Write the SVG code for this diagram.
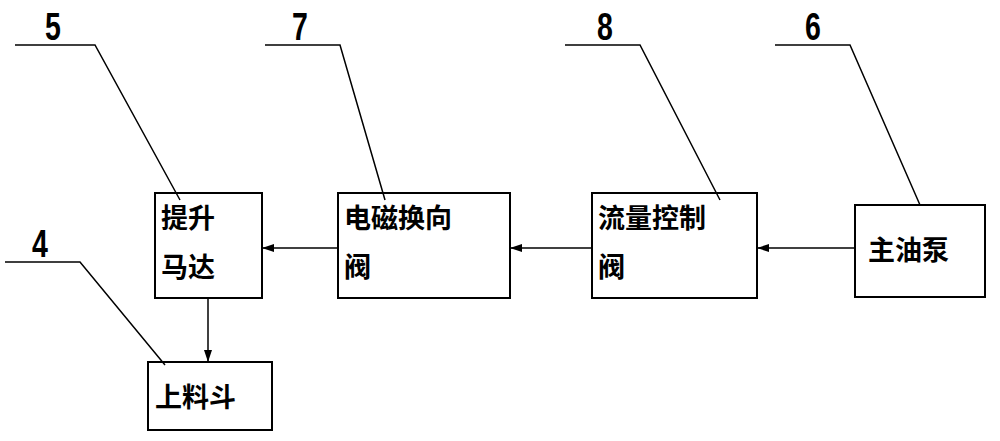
<svg xmlns="http://www.w3.org/2000/svg" width="1000" height="441" viewBox="0 0 1000 441">
<style>
.b{fill:#fff;stroke:#000;stroke-width:2}
.t{font-family:"Liberation Sans","Noto Sans CJK SC",sans-serif;font-size:27px;font-weight:bold;fill:#000}
.n{font-family:"Liberation Sans",sans-serif;font-size:38px;font-weight:bold;fill:#000}
.l{fill:none;stroke:#000;stroke-width:1.5}
</style>
<defs><marker id="a" markerWidth="12" markerHeight="8" refX="12" refY="4" orient="auto" markerUnits="userSpaceOnUse"><path d="M0,0L12,4L0,8z"/></marker></defs>
<rect width="1000" height="441" fill="#fff"/>
<g id="n5"><rect class="b" x="155" y="193" width="107" height="105"/><text class="t" x="161" y="228">提升</text><text class="t" x="161" y="277">马达</text></g>
<g id="n7"><rect class="b" x="338" y="193" width="172" height="105"/><text class="t" x="344" y="228">电磁换向</text><text class="t" x="344" y="277">阀</text></g>
<g id="n8"><rect class="b" x="592" y="193" width="165" height="105"/><text class="t" x="598" y="228">流量控制</text><text class="t" x="598" y="277">阀</text></g>
<g id="n6"><rect class="b" x="855" y="205" width="130" height="92"/><text class="t" x="868" y="260">主油泵</text></g>
<g id="n4"><rect class="b" x="148" y="362" width="124" height="68"/><text class="t" x="155" y="407">上料斗</text></g>
<g id="connectors">
<line class="l" x1="855" y1="248" x2="757" y2="248" marker-end="url(#a)"/>
<line class="l" x1="592" y1="248" x2="510" y2="248" marker-end="url(#a)"/>
<line class="l" x1="338" y1="248" x2="262" y2="248" marker-end="url(#a)"/>
<line class="l" x1="208" y1="298" x2="208" y2="362" marker-end="url(#a)"/>
<polyline class="l" points="15,45 95,45 180,200"/>
<polyline class="l" points="265,45 340,45 385,200"/>
<polyline class="l" points="565,45 640,45 720,200"/>
<polyline class="l" points="775,45 850,45 920,205"/>
<polyline class="l" points="5,262 80,262 165,365"/>
</g>
<text class="n" transform="translate(45,40) scale(0.75,1)">5</text>
<text class="n" transform="translate(292,40) scale(0.75,1)">7</text>
<text class="n" transform="translate(597,40) scale(0.75,1)">8</text>
<text class="n" transform="translate(805,40) scale(0.75,1)">6</text>
<text class="n" transform="translate(32,257) scale(0.75,1)">4</text>
</svg>
